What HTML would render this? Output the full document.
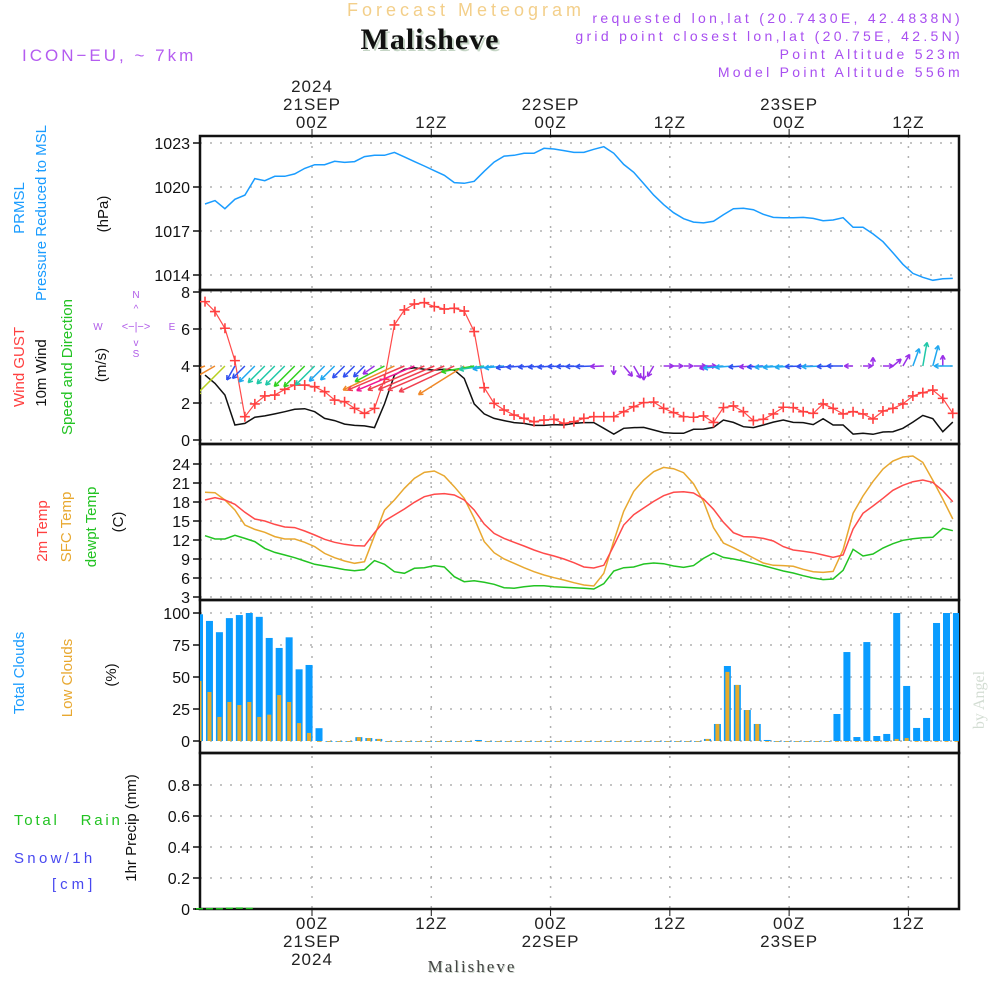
<!DOCTYPE html>
<html><head><meta charset="utf-8">
<style>
html,body{margin:0;padding:0;background:#fff;}
svg{display:block;font-family:"Liberation Sans",sans-serif;}
</style></head>
<body>
<svg id="chart" width="1000" height="1000" viewBox="0 0 1000 1000" xmlns="http://www.w3.org/2000/svg">
<defs>
<clipPath id="cp"><rect x="200" y="136" width="759" height="154"/></clipPath>
<clipPath id="cw"><rect x="200" y="290" width="759" height="154"/></clipPath>
<clipPath id="ct"><rect x="200" y="444" width="759" height="156"/></clipPath>
<clipPath id="cc"><rect x="200" y="600" width="759" height="153"/></clipPath>
</defs>
<g>
<text x="466" y="16" text-anchor="middle" font-size="18" fill="#f3cf8a" letter-spacing="4">Forecast Meteogram</text>
<text x="432" y="51" text-anchor="middle" font-size="30" font-weight="bold" font-family="Liberation Serif,serif" fill="#c5d5c5" letter-spacing="1">Malisheve</text>
<text x="430" y="49" text-anchor="middle" font-size="30" font-weight="bold" font-family="Liberation Serif,serif" fill="#111" letter-spacing="1">Malisheve</text>
<text x="22" y="61" font-size="17" fill="#b45cf0" letter-spacing="3">ICON−EU, ~ 7km</text>
<g font-size="14" fill="#a84ff0" text-anchor="end" letter-spacing="3.3">
<text x="963" y="23">requested lon,lat (20.7430E, 42.4838N)</text>
<text x="963" y="41">grid point closest lon,lat (20.75E, 42.5N)</text>
<text x="963" y="59">Point Altitude 523m</text>
<text x="963" y="77">Model Point Altitude 556m</text>
</g>
</g>
<g id="axes"></g>
<g id="marks"></g>
<g font-size="15">
<text transform="translate(24,208) rotate(-90)" text-anchor="middle" fill="#1a9cff">PRMSL</text>
<text transform="translate(46,213) rotate(-90)" text-anchor="middle" fill="#1a9cff">Pressure Reduced to MSL</text>
<text transform="translate(108,214) rotate(-90)" text-anchor="middle" fill="#111">(hPa)</text>
<text transform="translate(24,367) rotate(-90)" text-anchor="middle" fill="#ff4040">Wind GUST</text>
<text transform="translate(46,373) rotate(-90)" text-anchor="middle" fill="#111">10m Wind</text>
<text transform="translate(72,367) rotate(-90)" text-anchor="middle" fill="#22c322">Speed and Direction</text>
<text transform="translate(106,365) rotate(-90)" text-anchor="middle" fill="#111">(m/s)</text>
<g fill="#b05ce8" font-size="10" text-anchor="middle">
<text x="136" y="298">N</text><text x="136" y="357">S</text><text x="98" y="330">W</text><text x="172" y="330">E</text>
<text x="136" y="330" font-size="11">&lt;−|−&gt;</text>
<text x="136" y="312" font-size="10">^</text><text x="136" y="346" font-size="10">v</text>
</g>
<text transform="translate(47,531) rotate(-90)" text-anchor="middle" fill="#ff4040">2m Temp</text>
<text transform="translate(71,527) rotate(-90)" text-anchor="middle" fill="#e8a830">SFC Temp</text>
<text transform="translate(96,527) rotate(-90)" text-anchor="middle" fill="#22c322">dewpt Temp</text>
<text transform="translate(123,522) rotate(-90)" text-anchor="middle" fill="#111">(C)</text>
<text transform="translate(24,673) rotate(-90)" text-anchor="middle" fill="#1a9cff">Total Clouds</text>
<text transform="translate(72,678) rotate(-90)" text-anchor="middle" fill="#e8a830">Low Clouds</text>
<text transform="translate(116,675) rotate(-90)" text-anchor="middle" fill="#111">(%)</text>
<text transform="translate(136,828) rotate(-90)" text-anchor="middle" fill="#111">1hr Precip (mm)</text>
<text x="14" y="825" fill="#22c322" letter-spacing="2.8">Total&#160;&#160;&#160;Rain</text>
<text x="14" y="863" fill="#4848f0" letter-spacing="3.3">Snow/1h</text>
<text x="52" y="889" fill="#4848f0" letter-spacing="4">[cm]</text>
</g>
<text transform="translate(984,700) rotate(-90)" text-anchor="middle" font-size="16" font-family="Liberation Serif,serif" fill="#d3ddd3">by Angel</text>
<text x="473" y="973" text-anchor="middle" font-size="17" font-family="Liberation Serif,serif" fill="#c8d4c8" letter-spacing="2">Malisheve</text>
<text x="472" y="972" text-anchor="middle" font-size="17" font-family="Liberation Serif,serif" fill="#444" letter-spacing="2">Malisheve</text>
</svg>
<script>
const pressure=[1018.84,1019.07,1018.52,1019.16,1019.45,1020.57,1020.43,1020.73,1020.73,1020.89,1021.27,1021.52,1021.52,1021.75,1021.68,1021.73,1022.07,1022.16,1022.16,1022.36,1022.05,1021.73,1021.43,1021.11,1020.8,1020.3,1020.25,1020.39,1021.07,1021.7,1022.11,1022.16,1022.3,1022.3,1022.64,1022.59,1022.48,1022.36,1022.36,1022.57,1022.75,1022.3,1021.54,1021.0,1020.23,1019.45,1018.8,1018.25,1017.84,1017.61,1017.55,1017.66,1018.11,1018.52,1018.55,1018.45,1018.14,1017.93,1017.91,1017.91,1017.93,1017.86,1017.7,1017.75,1017.91,1017.25,1017.25,1016.8,1016.27,1015.52,1014.73,1014.11,1013.84,1013.64,1013.75,1013.77];
const gust=[7.48,6.94,6.04,4.29,1.26,1.95,2.38,2.43,2.74,2.97,2.97,2.88,2.61,2.16,2.07,1.71,1.44,1.71,3.28,6.22,7.03,7.35,7.42,7.21,7.08,7.12,6.97,5.86,2.83,1.98,1.62,1.35,1.17,0.99,1.08,1.12,0.9,0.99,1.17,1.26,1.26,1.26,1.53,1.8,2.02,2.05,1.71,1.48,1.26,1.23,1.3,0.95,1.75,1.84,1.53,1.05,1.12,1.41,1.77,1.75,1.53,1.44,1.95,1.71,1.41,1.53,1.41,1.14,1.57,1.71,1.95,2.38,2.56,2.7,2.25,1.44];
const wind10m=[3.51,3.06,2.43,0.81,0.9,1.23,1.3,1.41,1.53,1.66,1.69,1.53,1.17,1.05,0.86,0.79,0.76,0.67,1.95,3.51,3.82,3.91,3.82,3.78,3.82,3.78,3.33,1.95,1.41,1.17,1.05,0.94,0.9,0.79,0.79,0.83,0.81,0.9,0.94,0.94,0.63,0.32,0.63,0.67,0.68,0.54,0.4,0.36,0.36,0.58,0.59,0.68,1.08,0.95,0.72,0.67,0.81,0.97,1.08,0.95,0.94,0.83,1.15,0.81,0.81,0.32,0.36,0.31,0.43,0.45,0.63,0.97,1.33,1.15,0.45,0.97];
const windDir=[70,60,45,30,45,45,45,45,45,45,45,45,45,45,45,45,45,55,62,65,67,67,67,67,67,65,58,80,82,82,84,84,86,86,86,86,88,88,88,88,88,0,320,330,0,30,270,270,270,270,270,80,84,86,86,86,86,86,86,86,88,88,88,88,90,90,270,180,270,230,210,200,190,195,180,90];
const temp2m=[18.32,18.68,18.32,17.63,16.37,15.32,15.0,14.47,14.05,13.95,13.42,12.79,12.11,11.63,11.32,11.11,11.05,13.16,15.0,15.95,16.89,17.95,18.84,19.21,19.32,19.11,18.32,16.74,14.53,13.05,12.26,11.63,11.05,10.42,9.89,9.47,9.0,8.42,7.74,7.58,8.0,11.1,14.37,16.0,17.05,18.1,19.0,19.53,19.63,19.42,18.47,16.84,14.79,13.16,12.53,12.47,12.26,11.84,10.95,10.42,10.21,10.0,9.63,9.26,9.63,13.74,16.21,17.37,18.58,19.84,20.63,21.21,21.47,21.1,19.79,18.05];
const tempSfc=[19.53,19.47,18.32,16.74,14.37,13.68,13.21,12.53,12.16,12.16,11.63,10.95,9.89,9.21,8.68,8.32,8.58,12.68,16.74,18.32,20.16,21.74,22.68,22.89,22.11,20.42,18.58,15.42,11.74,10.0,9.0,8.32,7.63,7.0,6.47,6.05,5.68,5.26,4.89,4.74,6.74,11.84,16.53,19.68,21.47,22.79,23.47,23.26,22.63,20.89,18.1,13.95,11.53,10.79,10.0,9.16,8.37,8.0,7.95,7.84,7.37,7.0,6.89,7.05,10.47,16.21,18.95,21.26,23.21,24.47,25.1,25.26,24.26,21.42,18.47,15.32];
const dewpt=[12.68,12.16,12.16,12.74,12.26,11.74,10.68,10.05,9.63,9.21,8.68,8.16,7.89,7.63,7.32,7.16,7.32,8.74,8.16,7.0,6.74,7.53,7.63,7.95,7.74,6.21,5.42,5.58,5.32,5.0,4.47,4.37,4.63,4.79,4.79,4.63,4.53,4.47,4.37,4.26,5.1,7.1,7.63,7.74,8.21,8.37,8.26,7.89,7.68,7.95,9.1,9.95,9.26,9.0,8.68,8.32,7.95,7.53,7.1,6.79,6.37,6.0,5.74,5.84,7.21,10.53,9.47,9.79,10.74,11.42,11.95,12.21,12.37,12.42,13.84,13.47];
const totalClouds=[99,93.8,85,96,98.4,100,97,80.5,72.7,81,56,59.4,10,0,0,0,3,2.3,1.6,0,0,0,0,0,0,0,0,0,0.8,0,0,0,0,0,0,0,0,0,0,0,0,0,0,0,0,0,0,0,0,0,0,1.6,13.3,58.6,43.8,24.2,13.3,0.8,0,0,0,0,0,0,21.1,69.5,3.1,77.3,3.9,5.5,100,43,10.2,18,92.2,100,100];
const lowClouds=[46.9,38.3,18.8,30.5,28.1,30.5,18.8,20.6,35.9,30.5,14,6.3,0,0,0,0,3,2.3,1.6,0,0,0,0,0,0,0,0,0,0,0,0,0,0,0,0,0,0,0,0,0,0,0,0,0,0,0,0,0,0,0,0,1.6,13.3,54,43.8,24.2,13.3,0,0,0,0,0,0,0,0,0,0,0,0,0,1.6,2.3,0,0,0,0,0];
const precip=[0,0,0,0.003,0.004,0.002];
const pTicks=[1023,1020,1017,1014];
const wTicks=[0,2,4,6,8];
const tTicks=[3,6,9,12,15,18,21,24];
const cTicks=[0,25,50,75,100];
const rTicks=[0.2,0.4,0.6,0.8];
const rTickLabels=["0","0.2","0.4","0.6","0.8"];
const timeTicks=[0,12,24,36,48,60];

const NS='http://www.w3.org/2000/svg';
const xI=i=>205+i*9.97;
const xBar=i=>199.5+i*9.96;
const xH=h=>312+h*9.94;
const yP=p=>143+(1023-p)*44/3;
const yW=v=>440-v*18.5;
const yT=t=>464+(24-t)*133/21;
const yC=c=>741-c*1.28;
const yR=r=>909-r*155;
const axes=document.getElementById('axes');
const marks=document.getElementById('marks');
function mk(tag,attrs,parent){const e=document.createElementNS(NS,tag);for(const k in attrs)e.setAttribute(k,attrs[k]);(parent||marks).appendChild(e);return e;}

function hgrid(vals,yf,labels){
  vals.forEach((v,k)=>{
    const y=yf(v);
    const g=mk('line',{x1:200,x2:959,y1:y,y2:y,stroke:'#b0b0b0','stroke-width':1.5,'stroke-dasharray':'2 8'},axes);
    
    
    const t=mk('line',{x1:193,x2:200,y1:y,y2:y,stroke:'#111','stroke-width':1.5},axes);
    
    
    const l=mk('text',{x:190,y:y+6,'text-anchor':'end','font-size':16,fill:'#111'},axes);
    l.textContent=labels?labels[k]:String(v);
    
    
  });
}
hgrid(pTicks,yP);
hgrid(wTicks,yW);
hgrid(tTicks,yT);
hgrid(cTicks,yC);
hgrid([0].concat(rTicks),yR,rTickLabels);
timeTicks.forEach(h=>{
  const x=xH(h);
  const g=mk('line',{x1:x,x2:x,y1:136,y2:909,stroke:'#b0b0b0','stroke-width':1.5,'stroke-dasharray':'2 8'},axes);
  
  
  const t1=mk('line',{x1:x,x2:x,y1:129,y2:136,stroke:'#111','stroke-width':1},axes);
  
  
  const t2=mk('line',{x1:x,x2:x,y1:909,y2:916,stroke:'#111','stroke-width':1},axes);
  
  
  const hr=(h%24===0)?'00Z':'12Z';
  const day=21+Math.floor(h/24);
  const top=[hr];const bot=[hr];
  if(h%24===0){top.unshift(day+'SEP');bot.push(day+'SEP');}
  if(h===0){top.unshift('2024');bot.push('2024');}
  top.forEach((s,k)=>{const t=mk('text',{x:x,y:128-(top.length-1-k)*18,'text-anchor':'middle','font-size':17,fill:'#222','letter-spacing':1},axes);t.textContent=s;
    
    });
  bot.forEach((s,k)=>{const t=mk('text',{x:x,y:929+k*18,'text-anchor':'middle','font-size':17,fill:'#222','letter-spacing':1},axes);t.textContent=s;
    
    });
});
[[136,290],[290,444],[444,600],[600,753],[753,909]].forEach(([a,b])=>{
  const r=mk('rect',{x:200,y:a,width:759,height:b-a,fill:'none',stroke:'#111','stroke-width':2.5},axes);
  
  
});
const base=mk('line',{x1:195,x2:960,y1:909,y2:909,stroke:'#111','stroke-width':2,'stroke-dasharray':'6 3'},axes);



function line(arr,yf,color,clip,name,w){
  const pts=arr.map((v,i)=>xI(i).toFixed(1)+','+yf(v).toFixed(1)).join(' ');
  const e=mk('polyline',{points:pts,fill:'none',stroke:color,'stroke-width':w||1.5,'clip-path':'url(#'+clip+')'});
  
  
  return e;
}
line(pressure,yP,'#1a9cff','cp','pressure-line');
line(wind10m,yW,'#111','cw','wind-10m-line');
line(gust,yW,'#ff4a4a','cw','wind-gust-line',1.2);
gust.forEach((v,i)=>{
  const x=xI(i),y=yW(v);
  const p=mk('path',{d:`M${x-5},${y}H${x+5}M${x},${y-5}V${y+5}`,stroke:'#ff4040','stroke-width':1.6,'clip-path':'url(#cw)'});
  
  
});
function spdColor(s){
  if(s<0.7)return '#9a30e8';
  if(s<0.95)return '#3050f0';
  if(s<1.3)return '#20a8f0';
  if(s<1.6)return '#20c8a8';
  if(s<2.2)return '#30d020';
  if(s<3.0)return '#b8d020';
  if(s<3.6)return '#f08828';
  if(s<3.85)return '#f04050';
  return '#f01890';
}
windDir.forEach((d,i)=>{
  const s=wind10m[i];const L=4+s*15;
  const to=(d+180)*Math.PI/180;
  const x0=xI(i),y0=yW(4);
  const x1=x0+Math.sin(to)*L,y1=y0-Math.cos(to)*L;
  const a=Math.atan2(y1-y0,x1-x0);
  const h=5;
  const dpath=`M${x0},${y0}L${x1},${y1}M${x1},${y1}L${x1-h*Math.cos(a-0.5)},${y1-h*Math.sin(a-0.5)}M${x1},${y1}L${x1-h*Math.cos(a+0.5)},${y1-h*Math.sin(a+0.5)}`;
  const p=mk('path',{d:dpath,stroke:spdColor(s),'stroke-width':1.5,fill:'none','clip-path':'url(#cw)'});
  
  
});
line(tempSfc,yT,'#e8a830','ct','sfc-temp-line');
line(temp2m,yT,'#ff4a4a','ct','temp-2m-line');
line(dewpt,yT,'#22c322','ct','dewpt-line');
totalClouds.forEach((c,i)=>{
  const x=xBar(i);
  const r=mk('rect',{x:x-3.5,y:yC(c),width:7,height:Math.max(0.8,yC(0)-yC(c)),fill:'#0a9cff','clip-path':'url(#cc)'});
  
  
  const lc=lowClouds[i];
  const r2=mk('rect',{x:x-2,y:yC(lc),width:4,height:Math.max(0.8,yC(0)-yC(lc)),fill:'#e6aa2a','clip-path':'url(#cc)'});
  
  
});
precip.forEach((r,i)=>{
  const x=xBar(i);
  const b=mk('rect',{x:x-3.5,y:yR(r)-1,width:7,height:Math.max(1.5,yR(0)-yR(r)),fill:'#22c322'});
  
  
});
</script>
</body></html>
